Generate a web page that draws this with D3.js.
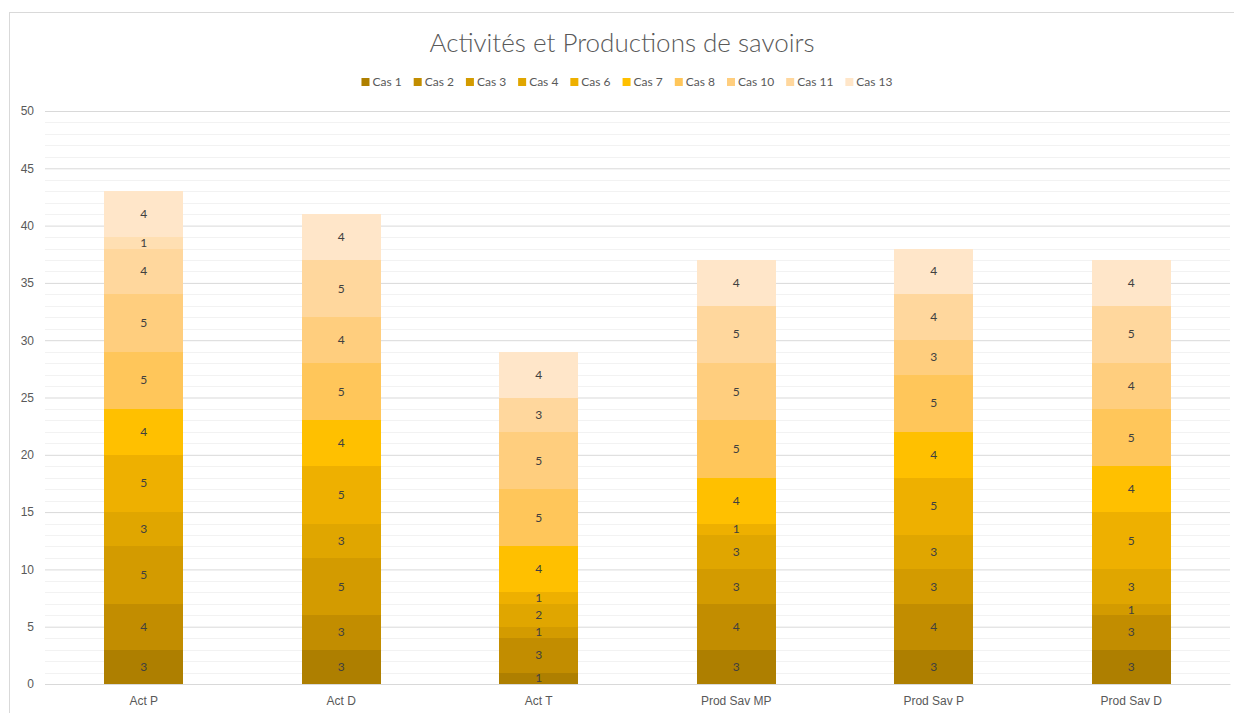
<!DOCTYPE html>
<html>
<head>
<meta charset="utf-8">
<script src="https://cdn.jsdelivr.net/npm/d3@7"></script>
<style>
  body { margin: 0; background: #fff; }
  svg { display: block; font-family: Lato, "Open Sans", sans-serif; }
</style>
</head>
<body>
<div class="plot"></div>
<script>
// categories and series
let categories = ["Act P", "Act D", "Act T", "Prod Sav MP", "Prod Sav P", "Prod Sav D"];
let seriesNames = ["Cas 1", "Cas 2", "Cas 3", "Cas 4", "Cas 6", "Cas 7", "Cas 8", "Cas 10", "Cas 11", "Cas 12", "Cas 13"];
let cas1  = [3, 3, 1, 3, 3, 3];
let cas2  = [4, 3, 3, 4, 4, 3];
let cas3  = [5, 5, 1, 3, 3, 1];
let cas4  = [3, 3, 2, 3, 3, 3];
let cas6  = [5, 5, 1, 1, 5, 5];
let cas7  = [4, 4, 4, 4, 4, 4];
let cas8  = [5, 5, 5, 5, 5, 5];
let cas10 = [5, 4, 5, 5, 3, 4];
let cas11 = [4, 5, 3, 5, 4, 5];
let cas12 = [1, 0, 0, 0, 0, 0];   // not in the legend of the original
let cas13 = [4, 4, 4, 4, 4, 4];
let legendNames = ["Cas 1", "Cas 2", "Cas 3", "Cas 4", "Cas 6", "Cas 7", "Cas 8", "Cas 10", "Cas 11", "Cas 13"];
let yTicks = [0, 5, 10, 15, 20, 25, 30, 35, 40, 45, 50];

let seriesValues = [cas1, cas2, cas3, cas4, cas6, cas7, cas8, cas10, cas11, cas12, cas13];
let colors = ["#AE7F00", "#C28D00", "#D39B00", "#E0A600", "#EEB000", "#FFC000",
              "#FFC65A", "#FFCE7E", "#FFD79D", "#FFDFB2", "#FFE6C9"];

let width = 1234, height = 713;
let plotLeft = 45, plotRight = 1230, plotTop = 111, plotBottom = 684;

let svg = d3.select(".plot").append("svg")
    .attr("width", width)
    .attr("height", height);

// chart frame
svg.append("rect")
    .attr("x", 9.5).attr("y", 12.5)
    .attr("width", 1240).attr("height", 720)
    .attr("fill", "none")
    .attr("stroke", "#D9D9D9");

let xScale = d3.scaleBand()
    .domain(categories)
    .range([plotLeft, plotRight])
    .paddingInner(0.6)
    .paddingOuter(0.3);

let yScale = d3.scaleLinear()
    .domain([0, 50])
    .range([plotBottom, plotTop]);

// minor gridlines every 1
svg.append("g").selectAll("line")
    .data(d3.range(1, 51).filter(v => v % 5 !== 0))
    .enter().append("line")
    .attr("x1", plotLeft).attr("x2", plotRight)
    .attr("y1", d => Math.round(yScale(d)) + 0.5)
    .attr("y2", d => Math.round(yScale(d)) + 0.5)
    .attr("stroke", "#F2F2F2");

// y axis with major gridlines
let yAxis = d3.axisLeft(yScale)
    .tickValues(yTicks)
    .tickSize(-(plotRight - plotLeft))
    .tickPadding(11);

let gy = svg.append("g")
    .attr("transform", "translate(" + plotLeft + ",0)")
    .call(yAxis);
gy.select(".domain").remove();
gy.selectAll(".tick line").attr("stroke", "#D9D9D9");
gy.selectAll(".tick text")
    .attr("fill", "#595959")
    .style("font-size", "12px");

// stacked bars
let table = categories.map((c, i) => {
    let row = { category: c };
    seriesNames.forEach((s, j) => { row[s] = seriesValues[j][i]; });
    return row;
});
let stacked = d3.stack().keys(seriesNames)(table);

let layers = svg.append("g").selectAll("g")
    .data(stacked)
    .enter().append("g")
    .attr("fill", (d, i) => colors[i]);

// rounded edges so stacked segments meet without seams
layers.selectAll("rect")
    .data(d => d.filter(p => p[1] - p[0] > 0))
    .enter().append("rect")
    .attr("x", d => Math.round(xScale(d.data.category)))
    .attr("width", Math.round(xScale.bandwidth()))
    .attr("y", d => Math.round(yScale(d[1])))
    .attr("height", d => Math.round(yScale(d[0])) - Math.round(yScale(d[1])))
    .attr("shape-rendering", "crispEdges");

layers.selectAll("text")
    .data(d => d.filter(p => p[1] - p[0] > 0))
    .enter().append("text")
    .attr("x", d => xScale(d.data.category) + xScale.bandwidth() / 2)
    .attr("y", d => (yScale(d[0]) + yScale(d[1])) / 2 + 4)
    .attr("text-anchor", "middle")
    .attr("fill", "#404040")
    .style("font-size", "12px")
    .text(d => d[1] - d[0]);

// x axis
let gx = svg.append("g")
    .attr("transform", "translate(0," + plotBottom + ")")
    .call(d3.axisBottom(xScale).tickSize(0).tickPadding(12));
gx.select(".domain").attr("stroke", "#D9D9D9");
gx.selectAll(".tick text")
    .attr("fill", "#595959")
    .style("font-size", "12px");

// title
svg.append("text")
    .attr("x", 622).attr("y", 52)
    .attr("text-anchor", "middle")
    .attr("fill", "#595959")
    .style("font-size", "26px")
    .style("font-weight", 300)
    .text("Activités et Productions de savoirs");

// legend
let legend = svg.append("g");
let xPos = 0;
legendNames.forEach(name => {
    let item = legend.append("g").attr("transform", "translate(" + xPos + ",0)");
    item.append("rect")
        .attr("x", 0).attr("y", -4)
        .attr("width", 8).attr("height", 8)
        .attr("fill", colors[seriesNames.indexOf(name)]);
    let t = item.append("text")
        .attr("x", 11).attr("y", 4)
        .attr("fill", "#595959")
        .style("font-size", "12px")
        .text(name);
    xPos += 11 + t.node().getComputedTextLength() + 12;
});
legend.attr("transform", "translate(" + (627 - (xPos - 12) / 2) + ",82)");
</script>
</body>
</html>
